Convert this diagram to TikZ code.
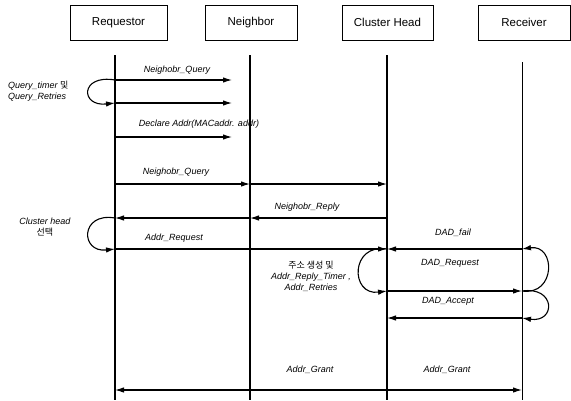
\documentclass[tikz,border=0pt]{standalone}
\usepackage{fontspec}
\setmainfont{Liberation Sans}
\newfontfamily\kr{Noto Sans CJK KR}
\usetikzlibrary{arrows.meta}
\begin{document}
\begin{tikzpicture}[x=1pt,y=-1pt,
  actor/.style={draw, line width=0.9pt, minimum height=35pt, font=\fontsize{11.5}{13}\selectfont, inner sep=0pt},
  life/.style={line width=1.1pt},
  msg/.style={line width=1.1pt, -{Latex[length=9pt,width=5.5pt]}},
  lbl/.style={font=\fontsize{9}{10}\selectfont\itshape, inner sep=0pt},
  note/.style={font=\fontsize{9}{11}\selectfont\itshape, inner sep=0pt, align=center},
  loopline/.style={line width=1.1pt, -{Latex[length=9pt,width=5.5pt]}}]
\useasboundingbox (0,0) rectangle (571,400);
% actors
\node[actor, minimum width=97pt] (req) at (118.5,22.5) {Requestor};
\node[actor, minimum width=92pt] (nbr) at (251,22.5) {Neighbor};
\node[actor, minimum width=91pt] (ch) at (387.5,22.5) {Cluster Head};
\node[actor, minimum width=92pt] (rcv) at (524,22.5) {Receiver};
% lifelines
\coordinate (reqT) at (115,55);  \coordinate (reqB) at (115,400);
\coordinate (nbrT) at (250,55);  \coordinate (nbrB) at (250,400);
\coordinate (chT) at (387,55);   \coordinate (chB) at (387,400);
\coordinate (rcvT) at (522,62);  \coordinate (rcvB) at (522,400);
\draw[life] (reqT) -- (reqB);
\draw[life] (nbrT) -- (nbrB);
\draw[life] (chT) -- (chB);
\draw[life, line width=0.8pt] (rcvT) -- (rcvB);
% message end points
\coordinate (q1a) at (115,80);  \coordinate (q1b) at (232,80);
\coordinate (q2a) at (115,103); \coordinate (q2b) at (232,103);
\coordinate (da) at (115,137);  \coordinate (db) at (232,137);
\coordinate (n1a) at (115,184); \coordinate (n1b) at (250,184); \coordinate (n1c) at (387,184);
\coordinate (r1a) at (387,218); \coordinate (r1b) at (250,218); \coordinate (r1c) at (115,218);
\coordinate (ara) at (115,249); \coordinate (arb) at (387,249);
\coordinate (dfa) at (522,249); \coordinate (dfb) at (387,249);
\coordinate (dra) at (387,291); \coordinate (drb) at (522,291);
\coordinate (daa) at (522,318); \coordinate (dab) at (387,318);
\coordinate (ga) at (387,390);  \coordinate (gb) at (115,390); \coordinate (gc) at (522,390);
% messages
\draw[msg] (q1a) -- (q1b);
\draw[msg] (q2a) -- (q2b);
\draw[msg] (da) -- (db);
\draw[msg] (n1a) -- (n1b);
\draw[msg] (n1b) -- (n1c);
\draw[msg] (r1a) -- (r1b);
\draw[msg] (r1b) -- (r1c);
\draw[msg] (ara) -- (arb);
\draw[msg] (dfa) -- (dfb);
\draw[msg] (dra) -- (drb);
\draw[msg] (daa) -- (dab);
\draw[msg] (ga) -- (gb);
\draw[msg] (ga) -- (gc);
% loops
\draw[loopline] (q1a) .. controls (80,74) and (80,107) .. (q2a);
\draw[loopline] (r1c) .. controls (80,212) and (80,253) .. (ara);
\draw[loopline] (arb) .. controls (350,243) and (350,296) .. (dra);
\draw[loopline] (drb) .. controls (556,296) and (556,244) .. (dfa);
\draw[loopline] (drb) .. controls (556,286) and (556,323) .. (daa);
% labels
\node[lbl] (l1) at (177,70) {Neighobr\_Query};
\node[lbl] (l2) at (199,124) {Declare Addr(MACaddr. addr)};
\node[lbl] (l3) at (176,172) {Neighobr\_Query};
\node[lbl] (l4) at (307,207) {Neighobr\_Reply};
\node[lbl] (l5) at (174,238) {Addr\_Request};
\node[lbl] (l6) at (453,233) {DAD\_fail};
\node[lbl] (l7) at (450,263) {DAD\_Request};
\node[lbl] (l8) at (448,301) {DAD\_Accept};
\node[lbl] (l9) at (310,370) {Addr\_Grant};
\node[lbl] (l10) at (447,370) {Addr\_Grant};
\node[note, align=left, anchor=west] (n1) at (8,91) {Query\_timer {\kr\upshape 및}\\Query\_Retries};
\node[note] (n2) at (45,227) {Cluster head\\{\kr\upshape 선택}};
\node[note] (n3) at (311,276) {{\kr\upshape 주소 생성 및}\\Addr\_Reply\_Timer ,\\Addr\_Retries};
\end{tikzpicture}
\end{document}
